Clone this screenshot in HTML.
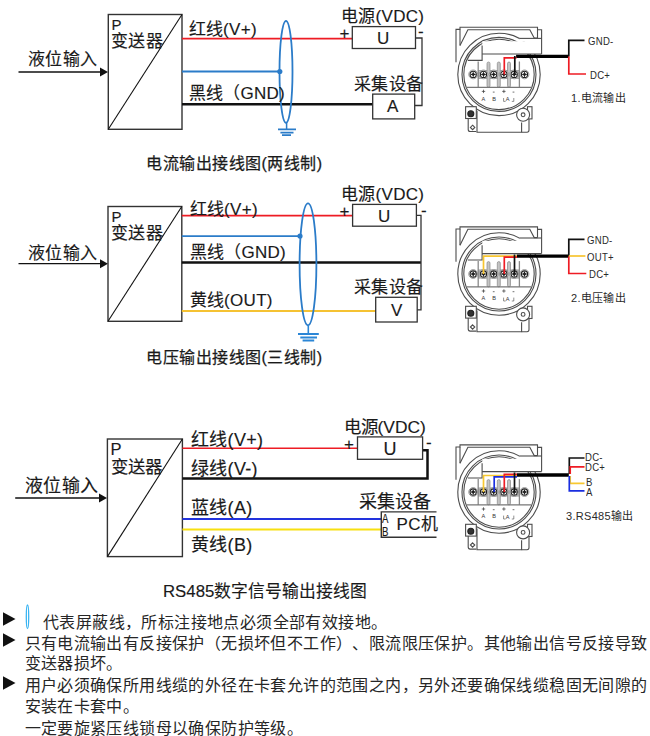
<!DOCTYPE html>
<html lang="zh-CN"><head><meta charset="utf-8">
<style>
html,body{margin:0;padding:0;background:#fff;}
body{text-spacing-trim:space-all;width:650px;height:736px;position:relative;overflow:hidden;font-family:"Liberation Sans",sans-serif;color:#1a1a1a;}
.t{position:absolute;white-space:nowrap;line-height:1;font-size:17px;letter-spacing:0.3px;-webkit-text-stroke:0.15px #1a1a1a;}
.s{font-size:11px;color:#2a2a2a;-webkit-text-stroke:0;}
.b{font-size:16px;letter-spacing:0.4px;color:#262626;-webkit-text-stroke:0;}
.cap{font-size:16px;letter-spacing:0.5px;-webkit-text-stroke:0.25px #1a1a1a;}
.sn{transform:scaleX(0.87);transform-origin:0 0;}
svg{position:absolute;left:0;top:0;}
</style></head><body>
<svg width="650" height="736" viewBox="0 0 650 736">
<defs>
<g id="dev" fill="none" stroke="#4d4d4d" stroke-width="1.1">
  <!-- circles -->
  <circle cx="499" cy="74.4" r="41.2"/>
  <circle cx="499" cy="74.4" r="37"/>
  <circle cx="499" cy="74.4" r="35.2"/>
  <!-- white cover for block -->
  <rect x="482.3" y="41.2" width="59.3" height="12.8" fill="#fff" stroke="none"/>
  <rect x="519.4" y="38.4" width="22.2" height="3" fill="#fff" stroke="none"/>
  <rect x="457" y="28" width="84" height="1.8" fill="#fff" stroke="none"/>
  <!-- housing lid -->
  <polyline points="456,62.2 456,29.4 460,29.4 460,27.3 537.5,27.3 537.5,29.8 541.6,29.8 541.6,54"/>
  <line x1="460" y1="29.4" x2="460" y2="45.6"/>
  <polyline points="460,45.6 467.9,29.7 529.8,29.7 534.2,38 537.5,38"/>
  <line x1="537.5" y1="29.8" x2="537.5" y2="38"/>
  <line x1="519.4" y1="38.4" x2="541.6" y2="38.4"/>
  <!-- inner block -->
  <polyline points="467.9,60.4 482.1,60.4 482.1,45.6"/>
  <line x1="482.1" y1="54" x2="541.6" y2="54"/>
  <!-- terminal strip -->
  <rect x="478.2" y="70.3" width="41.2" height="8.2" fill="#bdbdbd" stroke="#888" stroke-width="0.6"/>
  <g fill="#c4c4c4" stroke="#888" stroke-width="0.7">
    <rect x="487" y="62" width="3" height="25.3" rx="1.5"/>
    <rect x="497.3" y="62" width="3" height="25.3" rx="1.5"/>
    <rect x="507.5" y="62" width="3" height="25.3" rx="1.5"/>
  </g>
  <line x1="478.2" y1="61.5" x2="478.2" y2="87.3" stroke="#8a8a8a" stroke-width="1.3"/>
  <line x1="519.4" y1="61.5" x2="519.4" y2="87.3" stroke="#8a8a8a" stroke-width="1.3"/>
  <line x1="466.5" y1="87.3" x2="531" y2="87.3" stroke="#777" stroke-width="1.2"/>
  <!-- screws -->
  <g id="scr">
    <circle cx="473.2" cy="74.4" r="4.4" fill="#fff" stroke="#8a8a8a" stroke-width="0.9"/>
    <circle cx="473.2" cy="74.4" r="3.1" fill="#fff" stroke="#222" stroke-width="1.1"/>
    <path d="M473.2 71.4 L474.1 73.5 L476.2 74.4 L474.1 75.3 L473.2 77.4 L472.3 75.3 L470.2 74.4 L472.3 73.5z" fill="#1e1e1e" stroke="none"/>
  </g>
  <use href="#scr" x="10.3"/><use href="#scr" x="20.5"/><use href="#scr" x="30.7"/><use href="#scr" x="41"/><use href="#scr" x="51.3"/>
  <!-- labels -->
  <g stroke="#333" stroke-width="0.7">
    <path d="M481.8 91.4h3.4M483.5 89.7v3.4M502.2 91.4h3.4M503.9 89.7v3.4M492.8 92.1h1.8M512.6 92.1h1.8"/>
  </g>
  <g fill="#333" stroke="none" font-family="Liberation Sans" font-size="5.6">
    <text x="481.6" y="100.6">A</text><text x="492.2" y="100.6">B</text><text x="505.8" y="101.2">A</text>
  </g>
  <path d="M503.6 98v3.4h2M513.8 98v3.4h-2" stroke="#444" stroke-width="0.6"/>
  <!-- bottom housing -->
  <rect x="465.6" y="106.7" width="10.7" height="11.8" fill="#fff"/>
  <circle cx="470.8" cy="113.7" r="3" fill="#333" stroke="#222"/>
  <path d="M468.2 118.5 V129.5 Q468.2 131.5 470.2 131.5 H476.3"/>
  <path d="M472.6 125.2 l2.2 2.2 l-2.2 2.2 l-2.2 -2.2z"/>
  <polyline points="477,110.8 477,132.2 521.6,132.2 521.6,122.6"/>
  <path d="M521.6 132.2 H527 Q529 132.2 529 130 V119"/>
  <rect x="527.5" y="106.7" width="4.5" height="12.2" fill="#fff"/>
  <circle cx="523.1" cy="114.8" r="6.5" fill="#fff"/>
  <circle cx="523.1" cy="114.8" r="1.9"/>
</g>
<marker id="arr" markerWidth="8" markerHeight="8" refX="8" refY="4" orient="auto" markerUnits="userSpaceOnUse"><path d="M0,0 L8,4 L0,8 z" fill="#111"/></marker>
</defs>

<!-- ===== Section 1 ===== -->
<g>
  <line x1="18.5" y1="72" x2="100" y2="72" stroke="#111" stroke-width="1.3"/>
  <path d="M100 67.5 L108 72 L100 76.5z" fill="#111"/>
  <rect x="108.3" y="14.5" width="73.7" height="114.8" fill="none" stroke="#333" stroke-width="1.4"/>
  <line x1="108.3" y1="129.3" x2="182" y2="14.5" stroke="#111" stroke-width="1.1"/>
  <line x1="182" y1="38.6" x2="352.3" y2="38.6" stroke="#ee1c24" stroke-width="1.7"/>
  <line x1="182" y1="71.5" x2="279.5" y2="71.5" stroke="#2b7cc9" stroke-width="1.8"/>
  <circle cx="279.8" cy="71.5" r="2.6" fill="#2b7cc9"/>
  <line x1="182" y1="104.3" x2="372.7" y2="104.3" stroke="#111" stroke-width="2.5"/>
  <ellipse cx="286" cy="71.8" rx="6.5" ry="51" fill="none" stroke="#2b7cc9" stroke-width="1.8"/>
  <line x1="286.6" y1="122.5" x2="286.6" y2="129.3" stroke="#2b7cc9" stroke-width="1.5"/>
  <path d="M278 129.3h18M280.4 132.6h13.1M282 135.1h9" stroke="#2b7cc9" stroke-width="1.7"/>
  <rect x="352.3" y="26.6" width="63.2" height="21.9" fill="none" stroke="#333" stroke-width="1.3"/>
  <polyline points="415.5,38 422,38 422,105.5 414.7,105.5" fill="none" stroke="#333" stroke-width="1.3"/>
  <rect x="372.7" y="94.1" width="42" height="24.8" fill="none" stroke="#333" stroke-width="1.3"/>
</g>

<!-- ===== Section 2 ===== -->
<g>
  <line x1="18.5" y1="263.7" x2="100" y2="263.7" stroke="#111" stroke-width="1.3"/>
  <path d="M100 259.2 L108 263.7 L100 268.2z" fill="#111"/>
  <rect x="108" y="206.5" width="73.8" height="114.8" fill="none" stroke="#333" stroke-width="1.4"/>
  <line x1="108" y1="321.3" x2="181.8" y2="206.5" stroke="#111" stroke-width="1.1"/>
  <line x1="181.8" y1="215.7" x2="352.6" y2="215.7" stroke="#ee1c24" stroke-width="1.7"/>
  <line x1="181.8" y1="236.1" x2="299.7" y2="236.1" stroke="#2b7cc9" stroke-width="1.8"/>
  <circle cx="300" cy="236.1" r="2.6" fill="#2b7cc9"/>
  <line x1="181.8" y1="262.5" x2="421" y2="262.5" stroke="#111" stroke-width="2.5"/>
  <line x1="181.8" y1="311" x2="375.7" y2="311" stroke="#f5c232" stroke-width="1.8"/>
  <ellipse cx="308" cy="264.3" rx="8.4" ry="61" fill="none" stroke="#2b7cc9" stroke-width="1.8"/>
  <line x1="308.3" y1="325" x2="308.3" y2="333.8" stroke="#2b86d6" stroke-width="1.6"/>
  <path d="M298 334h20.8M300.3 337.6h16.7M302.6 340.6h11.6" stroke="#2b86d6" stroke-width="2"/>
  <rect x="352.6" y="204.4" width="63.8" height="21.8" fill="none" stroke="#333" stroke-width="1.3"/>
  <polyline points="416.4,215.3 421,215.3 421,309.8 417.2,309.8" fill="none" stroke="#333" stroke-width="1.3"/>
  <rect x="375.7" y="297.3" width="41.5" height="24.7" fill="none" stroke="#333" stroke-width="1.3"/>
</g>

<!-- ===== Section 3 ===== -->
<g>
  <line x1="15.2" y1="498" x2="99" y2="498" stroke="#111" stroke-width="1.3"/>
  <path d="M99 493.5 L107 498 L99 502.5z" fill="#111"/>
  <rect x="107.4" y="439" width="75" height="117.6" fill="none" stroke="#333" stroke-width="1.4"/>
  <line x1="107.4" y1="556.6" x2="182.4" y2="439" stroke="#111" stroke-width="1.1"/>
  <line x1="182.4" y1="448.2" x2="357.5" y2="448.2" stroke="#ee1c24" stroke-width="1.6"/>
  <polyline points="182.4,478.5 427.5,478.5 427.5,450.2 422.6,450.2" fill="none" stroke="#111" stroke-width="2.5"/>
  <line x1="182.4" y1="519" x2="381.3" y2="519" stroke="#2233dd" stroke-width="2"/>
  <line x1="182.4" y1="529.5" x2="381.3" y2="529.5" stroke="#f8e010" stroke-width="2"/>
  <rect x="357.5" y="436.9" width="65.1" height="22.4" fill="none" stroke="#333" stroke-width="1.3"/>
  <polyline points="436.5,511.9 381.3,511.9 381.3,537.3 436.5,537.3" fill="none" stroke="#333" stroke-width="1.4"/>
</g>

<!-- devices -->
<use href="#dev"/>
<use href="#dev" transform="translate(0,199.6)"/>
<use href="#dev" transform="translate(0,417.6)"/>
</svg>

<!-- Section 1 text -->
<div class="t" style="left:28px;top:51px">液位输入</div>
<div class="t" style="left:111.5px;top:17px;font-size:15px">P</div>
<div class="t" style="left:111px;top:33px">变送器</div>
<div class="t" style="left:188.5px;top:21px">红线(V+)</div>
<div class="t" style="left:188.5px;top:85px">黑线（GND)</div>
<div class="t" style="left:341px;top:8px">电源(VDC)</div>
<div class="t" style="left:339.5px;top:24.5px">+</div>
<div class="t" style="left:418px;top:23px">-</div>
<div class="t" style="left:377px;top:30px">U</div>
<div class="t" style="left:354px;top:75.5px">采集设备</div>
<div class="t" style="left:387px;top:98px">A</div>
<div class="t cap" style="left:146px;top:155.5px">电流输出接线图(两线制)</div>

<!-- Section 2 text -->
<div class="t" style="left:28px;top:245px">液位输入</div>
<div class="t" style="left:111.5px;top:209px;font-size:15px">P</div>
<div class="t" style="left:111px;top:225px">变送器</div>
<div class="t" style="left:189.5px;top:201px">红线(V+)</div>
<div class="t" style="left:189.5px;top:244px">黑线（GND)</div>
<div class="t" style="left:189.5px;top:292px">黄线(OUT)</div>
<div class="t" style="left:341px;top:186px">电源(VDC)</div>
<div class="t" style="left:339.5px;top:202.5px">+</div>
<div class="t" style="left:421px;top:202px">-</div>
<div class="t" style="left:378px;top:208px">U</div>
<div class="t" style="left:354px;top:278.5px">采集设备</div>
<div class="t" style="left:391px;top:302px">V</div>
<div class="t cap" style="left:146px;top:350px">电压输出接线图(三线制)</div>

<!-- Section 3 text -->
<div class="t" style="left:25px;top:476.5px;font-size:18px">液位输入</div>
<div class="t" style="left:110.5px;top:441px;font-size:16.5px">P</div>
<div class="t" style="left:110.5px;top:458.5px;font-size:17.4px">变送器</div>
<div class="t" style="left:191px;top:430.5px;font-size:18px">红线(V+)</div>
<div class="t" style="left:191px;top:460px;font-size:18px">绿线(V-)</div>
<div class="t" style="left:191px;top:498.5px;font-size:18px">蓝线(A)</div>
<div class="t" style="left:191px;top:535.5px;font-size:18px">黄线(B)</div>
<div class="t" style="left:343.5px;top:419px;font-size:17.4px;letter-spacing:0">电源(VDC)</div>
<div class="t" style="left:344px;top:436px">+</div>
<div class="t" style="left:426px;top:433.5px">-</div>
<div class="t" style="left:383.5px;top:440px;font-size:18px">U</div>
<div class="t" style="left:358.5px;top:493px;font-size:18px">采集设备</div>
<div class="t" style="left:382px;top:512.5px;font-size:12px;transform:scaleX(0.8);transform-origin:0 0">A</div>
<div class="t" style="left:382px;top:526px;font-size:12px;transform:scaleX(0.8);transform-origin:0 0">B</div>
<div class="t" style="left:396.5px;top:516px;font-size:17px">PC机</div>
<div class="t" style="left:163px;top:583.5px;font-size:16.8px;letter-spacing:0;-webkit-text-stroke:0.15px #1a1a1a">RS485数字信号输出接线图</div>

<!-- device labels -->
<svg width="650" height="736" viewBox="0 0 650 736">
  <g fill="none" stroke-width="1.7">
    <line x1="516.1" y1="56.3" x2="568.8" y2="56.3" stroke="#000" stroke-width="3.2"/>
    <polyline points="504.3,74.4 504.3,57.8 516.5,57.8" stroke="#ee1c24"/>
    <polyline points="514.8,74.4 514.8,56" stroke="#111"/>
    <polyline points="584.5,40.3 568.8,40.3 568.8,56.5" stroke="#111"/>
    <polyline points="568.8,56.5 568.8,74 586,74" stroke="#ee1c24"/>
  </g>
  <g fill="none" stroke-width="1.7">
    <line x1="516.8" y1="256.1" x2="568.8" y2="256.1" stroke="#000" stroke-width="3.2"/>
    <polyline points="483.5,274.1 483.5,256.1 517,256.1" stroke="#f7c530"/>
    <polyline points="504.3,274.1 504.3,257.2 517,257.2" stroke="#ee1c24"/>
    <polyline points="514.5,274.1 514.5,254.5" stroke="#111"/>
    <polyline points="584.5,239.4 568.8,239.4 568.8,256" stroke="#111"/>
    <polyline points="568.8,256 585.4,256" stroke="#f7c530"/>
    <polyline points="568.8,256.5 568.8,273.5 586.3,273.5" stroke="#ee1c24"/>
  </g>
  <g fill="none" stroke-width="1.7">
    <line x1="516.8" y1="475" x2="568.8" y2="475" stroke="#000" stroke-width="3.5"/>
    <polyline points="483.5,492.1 483.5,475.5 517,475.5" stroke="#f8c830"/>
    <polyline points="494.2,492.1 494.2,476.9 517,476.9" stroke="#1a2ee0"/>
    <polyline points="504.3,492.1 504.3,474.3 517,474.3" stroke="#ee1c24"/>
    <polyline points="514.5,492.1 514.5,472.5" stroke="#111"/>
    <polyline points="584.5,458 569.3,458 569.3,474" stroke="#111"/>
    <polyline points="584.5,466.8 570.2,466.8 570.2,474" stroke="#ee1c24"/>
    <polyline points="570.2,476 570.2,483.4 584.5,483.4" stroke="#f8c830"/>
    <polyline points="569.3,476 569.3,490.8 584.5,490.8" stroke="#1a2ee0"/>
  </g>
</svg>
<div class="t s sn" style="left:588px;top:36px">GND-</div>
<div class="t s sn" style="left:590px;top:70px">DC+</div>
<div class="t s" style="left:571px;top:93px">1.电流输出</div>

<div class="t s sn" style="left:587px;top:235px">GND-</div>
<div class="t s sn" style="left:587px;top:252px">OUT+</div>
<div class="t s sn" style="left:589px;top:269px">DC+</div>
<div class="t s" style="left:571px;top:293px">2.电压输出</div>

<div class="t s sn" style="left:585px;top:452px">DC-</div>
<div class="t s sn" style="left:585px;top:462px">DC+</div>
<div class="t s sn" style="left:586px;top:477px">B</div>
<div class="t s sn" style="left:586px;top:487px">A</div>
<div class="t s" style="left:566px;top:511px">3.RS485输出</div>

<!-- bottom notes -->
<svg width="650" height="736" viewBox="0 0 650 736">
  <g fill="#111">
    <path d="M3 612.3 L15.5 619 L3 625.8z"/>
    <path d="M3 633.2 L15.5 640 L3 646.8z"/>
    <path d="M3 676.2 L15.5 683 L3 689.8z"/>
  </g>
  <ellipse cx="27.5" cy="616.8" rx="1.2" ry="11.8" fill="none" stroke="#3ab4f2" stroke-width="1.3"/>
</svg>
<div class="t b" style="left:43px;top:614.7px">代表屏蔽线，所标注接地点必须全部有效接地。</div>
<div class="t b" style="left:24.5px;top:635.9px">只有电流输出有反接保护（无损坏但不工作）、限流限压保护。其他输出信号反接导致</div>
<div class="t b" style="left:24.5px;top:655.9px">变送器损坏。</div>
<div class="t b" style="left:24.5px;top:678.2px">用户必须确保所用线缆的外径在卡套允许的范围之内，另外还要确保线缆稳固无间隙的</div>
<div class="t b" style="left:24.5px;top:699.2px">安装在卡套中。</div>
<div class="t b" style="left:24.5px;top:720.9px">一定要旋紧压线锁母以确保防护等级。</div>
</body></html>
